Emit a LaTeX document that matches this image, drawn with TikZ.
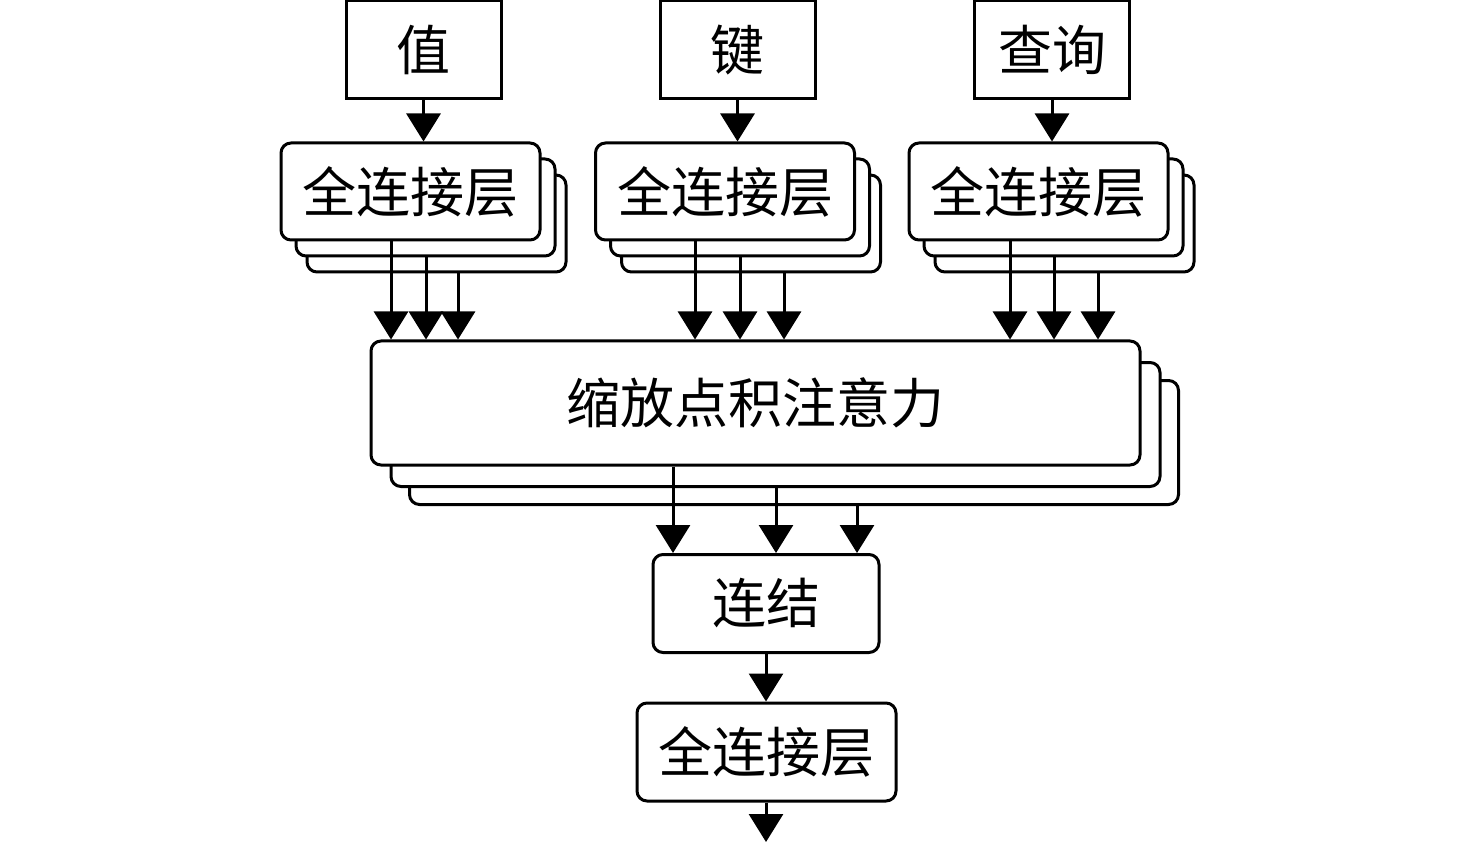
\documentclass[tikz,border=0pt]{standalone}
\usepackage{fontspec}
\newfontfamily\cjk{Noto Sans CJK SC}
\usetikzlibrary{arrows.meta}
\begin{document}
\begin{tikzpicture}[x=0.5pt,y=-0.5pt,
  box/.style={draw, line width=1.5pt, fill=white, inner sep=0pt, font=\cjk\fontsize{27}{30}\selectfont},
  rbox/.style={box, rounded corners=5pt},
  topbox/.style={box, minimum width=77.5pt, minimum height=49pt},
  fcbox/.style={rbox, minimum width=129.5pt, minimum height=48.5pt},
  attbox/.style={rbox, minimum width=384.5pt, minimum height=62pt},
  arr/.style={line width=1.5pt, -{Triangle[length=14pt,width=17pt]}}]
\useasboundingbox (0,0) rectangle (1476,844);
% input boxes
\node[topbox] (v) at (423.5,50) {值};
\node[topbox] (k) at (737.5,50) {键};
\node[topbox] (q) at (1052,50) {查询};
% FC stacks
\foreach \n/\cx in {v/410.5, k/725, q/1038.5}{
  \node[fcbox] (fc\n3) at (\cx+26,191.5+32) {};
  \node[fcbox] (fc\n2) at (\cx+15,191.5+16) {};
  \node[fcbox] (fc\n1) at (\cx,191.5) {全连接层};
}
% attention stack
\node[attbox] (att3) at (794,442.5) {};
\node[attbox] (att2) at (775.5,424.5) {};
\node[attbox] (att1) at (755.5,403) {缩放点积注意力};
% concat and output
\node[rbox, minimum width=113pt, minimum height=49pt] (cat) at (766,603.5) {连结};
\node[fcbox, minimum height=49pt] (fco) at (766.5,752) {全连接层};
\coordinate (out) at (766,842);
% x positions of parallel arrows
\path (391,0) coordinate (xv1) (426,0) coordinate (xv2) (458,0) coordinate (xv3)
      (695,0) coordinate (xk1) (740,0) coordinate (xk2) (784,0) coordinate (xk3)
      (1010,0) coordinate (xq1) (1054,0) coordinate (xq2) (1098,0) coordinate (xq3)
      (673,0) coordinate (xa1) (776,0) coordinate (xa2) (857,0) coordinate (xa3);
% arrows
\foreach \n in {v,k,q}{
  \draw[arr] (\n.south) -- (fc\n1.north -| \n.south);
  \foreach \i in {1,2,3}{
    \draw[arr] (fc\n\i.south -| x\n\i) -- (att1.north -| x\n\i);
  }
}
\foreach \i in {1,2,3}{
  \draw[arr] (att\i.south -| xa\i) -- (cat.north -| xa\i);
}
\draw[arr] (cat.south) -- (fco.north -| cat.south);
\draw[arr] (fco.south -| cat.south) -- (out);
\end{tikzpicture}
\end{document}
